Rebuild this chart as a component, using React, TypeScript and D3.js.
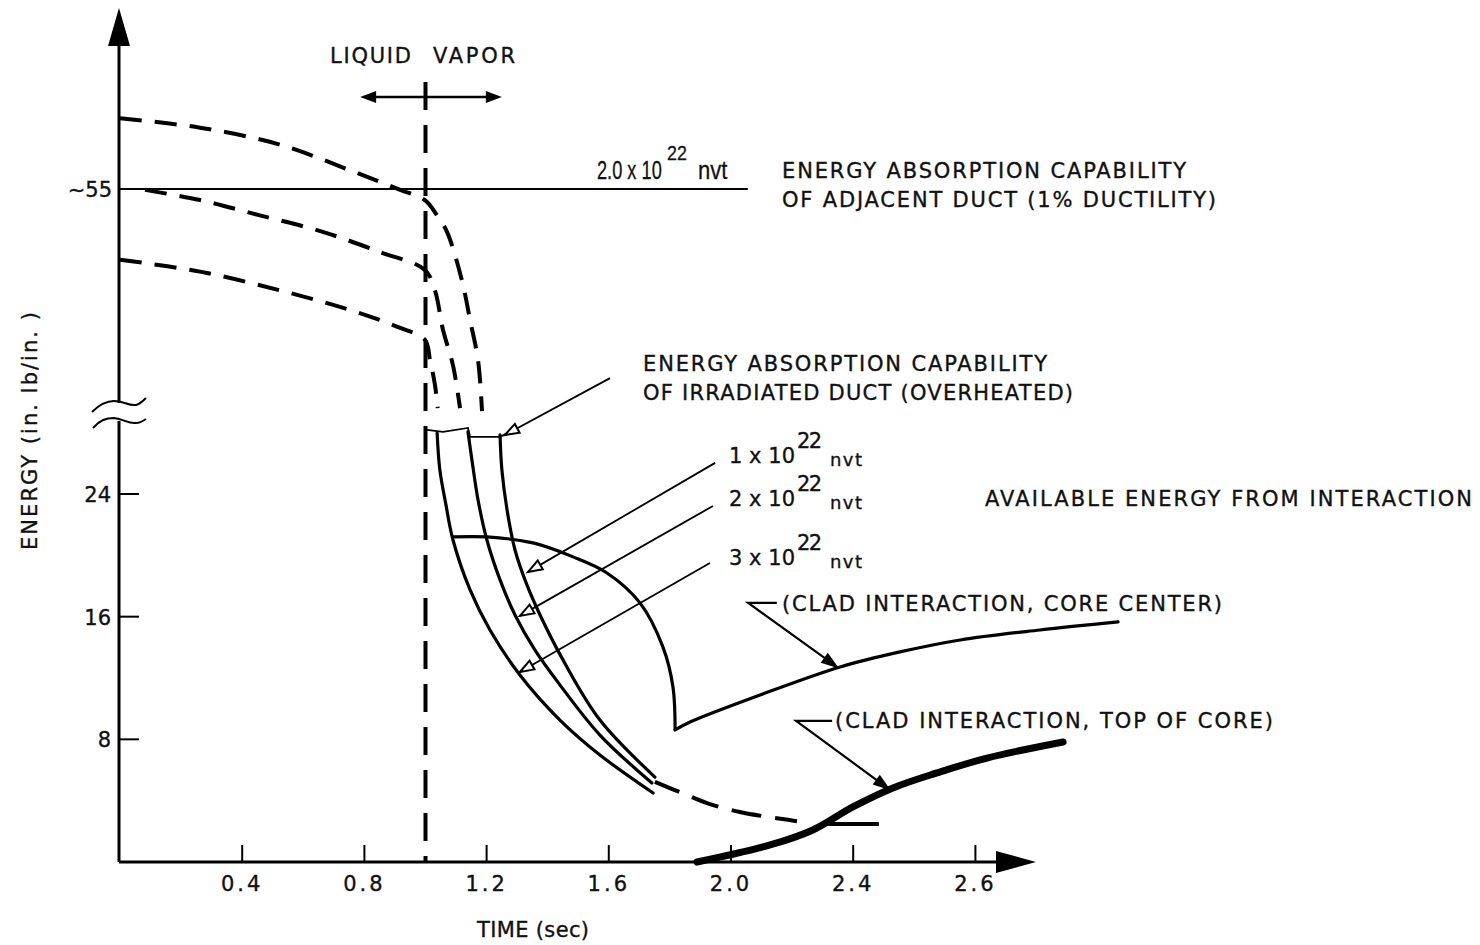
import React from "react";
import * as d3 from "d3";

const W = 1480;
const H = 945;

type P = [number, number]; // [time (sec), energy (in. lb/in.)]

const TIME_TICKS = [0.4, 0.8, 1.2, 1.6, 2.0, 2.4, 2.8];
const TIME_TICK_LABELS = ["0.4", "0.8", "1.2", "1.6", "2.0", "2.4", "2.6"];
const ENERGY_TICKS = [8, 16, 24];
const ENERGY_TICK_LABELS = ["8", "16", "24"];
const ADJACENT_DUCT_ENERGY = 55;
const ADJACENT_DUCT_LABEL = "~55";
const ADJACENT_DUCT_END_TIME = 2.055;
const PHASE_BOUNDARY_TIME = 1.0;
const PHASE_ARROW: P[] = [[0.786, 65.8], [1.25, 65.8]];

// dashed capability curves (liquid region and above axis break)
const DASHED_1: P[] = [
  [0.0, 63.3], [0.262, 62.2], [0.524, 60.2], [0.753, 57.2], [0.917, 54.9],
  [0.998, 53.7], [1.038, 51.9], [1.07, 50.0], [1.119, 44.3], [1.146, 39.6],
  [1.172, 34.9], [1.185, 29.4],
];
const DASHED_2: P[] = [
  [0.082, 54.9], [0.262, 53.7], [0.458, 51.9], [0.661, 50.0], [0.851, 47.6],
  [0.998, 45.5], [1.031, 43.1], [1.057, 38.5], [1.09, 34.3], [1.113, 29.6],
];
const DASHED_3: P[] = [
  [0.0, 46.7], [0.262, 45.3], [0.524, 43.1], [0.753, 40.8], [0.917, 38.7],
  [0.998, 37.3], [1.015, 34.9], [1.031, 32.0], [1.04, 29.6],
];

// overheated duct capability (solid)
const DUCT_3E22: P[] = [
  [1.038, 27.98], [1.047, 25.57], [1.067, 23.29], [1.09, 21.0], [1.146, 17.74],
  [1.211, 15.13], [1.309, 12.2], [1.44, 9.26], [1.571, 6.98], [1.745, 4.5],
];
const DUCT_2E22: P[] = [
  [1.139, 28.05], [1.152, 26.22], [1.172, 23.61], [1.201, 21.0], [1.244, 18.4],
  [1.293, 16.11], [1.358, 13.83], [1.44, 11.55], [1.571, 8.28], [1.741, 5.15],
];
const DUCT_1E22: P[] = [
  [1.244, 27.85], [1.25, 25.57], [1.267, 22.96], [1.293, 20.35], [1.332, 18.07],
  [1.375, 16.11], [1.45, 13.18], [1.571, 9.26], [1.751, 5.54],
];
const DUCT_TAIL: P[] = [
  [1.751, 5.22], [1.84, 4.5], [1.931, 3.78], [2.029, 3.26], [2.144, 2.87],
  [2.268, 2.54], [2.357, 2.48], [2.537, 2.48],
];
const OVERHEATED_TOP: P[] = [
  [1.005, 28.18], [1.057, 28.05], [1.139, 28.31], [1.146, 27.72], [1.244, 27.72], [1.267, 27.98],
];

// available energy
const CORE_CENTER: P[] = [
  [1.09, 21.2], [1.201, 21.2], [1.352, 20.81], [1.483, 19.9], [1.594, 18.85],
  [1.702, 16.9], [1.777, 14.03], [1.81, 11.42], [1.817, 8.61],
];
const CORE_CENTER_RISE: P[] = [
  [1.817, 8.61], [1.866, 9.13], [2.095, 10.89], [2.357, 12.72], [2.553, 13.7],
  [2.75, 14.48], [3.011, 15.13], [3.267, 15.66],
];
const TOP_OF_CORE: P[] = [
  [1.889, 0.0], [2.128, 1.11], [2.268, 2.09], [2.399, 3.59], [2.53, 4.83],
  [2.674, 5.81], [2.838, 6.78], [3.087, 7.83],
];

// leader lines: [start, tip]
const LEADERS: P[][] = [
  [[1.604, 32.8], [1.26, 27.85]],
  [[1.948, 26.03], [1.336, 18.92]],
  [[1.941, 23.22], [1.309, 16.05]],
  [[1.931, 19.5], [1.309, 12.39]],
];
const ELBOW_LEADERS: P[][] = [
  [[2.15, 16.9], [2.056, 16.9], [2.347, 12.72]],
  [[2.331, 9.2], [2.213, 9.2], [2.517, 4.76]],
];

const x = d3.scaleLinear().domain([0, 2.8]).range([120, 975.4]);
const y = d3.scaleLinear().domain([0, 30, 70]).range([862, 402, 61.2]);

const smooth = d3
  .line<P>()
  .x((d) => x(d[0]))
  .y((d) => y(d[1]))
  .curve(d3.curveCatmullRom.alpha(0.5));
const straight = d3
  .line<P>()
  .x((d) => x(d[0]))
  .y((d) => y(d[1]));

function arrowHead(from: [number, number], tip: [number, number], len = 13, half = 5) {
  const dx = tip[0] - from[0];
  const dy = tip[1] - from[1];
  const L = Math.hypot(dx, dy);
  const ux = dx / L;
  const uy = dy / L;
  const bx = tip[0] - ux * len;
  const by = tip[1] - uy * len;
  return `${tip[0]},${tip[1]} ${bx - uy * half},${by + ux * half} ${bx + uy * half},${by - ux * half}`;
}

const FONT = "'DejaVu Sans', sans-serif";
const NARROW = "'Liberation Sans', sans-serif";

export default function App() {
  const axisY = y(0);
  const axisX = x(0) - 1;
  const labelStyle = { fontFamily: FONT, fontSize: 21, fill: "#111", stroke: "#111", strokeWidth: 0.35 } as const;
  const narrowStyle = { fontFamily: NARROW, fontSize: 26, fill: "#111", stroke: "#111", strokeWidth: 0.3 } as const;

  const nvtLabels = [
    { n: "1", base: 463 },
    { n: "2", base: 506 },
    { n: "3", base: 565 },
  ];

  return (
    <svg width={W} height={H} viewBox={`0 0 ${W} ${H}`} style={{ position: "absolute", left: 0, top: 0, background: "#fff" }}>
      <rect width={W} height={H} fill="#fff" />
      {/* axes */}
      <line x1={axisX} y1={axisY} x2={axisX} y2={421} stroke="#000" strokeWidth={3} />
      <line x1={axisX} y1={403} x2={axisX} y2={40} stroke="#000" strokeWidth={3} />
      <polygon points={`${axisX - 11},46 ${axisX},8 ${axisX + 11},46`} fill="#000" />
      <line x1={axisX} y1={axisY} x2={1000} y2={axisY} stroke="#000" strokeWidth={3} />
      <polygon points={`996,${axisY - 11} 1036,${axisY} 996,${axisY + 11}`} fill="#000" />
      {/* axis break marks */}
      <path d="M92,412 C100,404 106,401 114,401 C124,401 128,406 136,405 C140,404 143,401 146,398" fill="none" stroke="#000" strokeWidth={2} />
      <path d="M93,428 C100,420 106,418 114,418 C124,419 128,424 136,423 C140,423 143,421 146,419" fill="none" stroke="#000" strokeWidth={2} />

      {/* x ticks */}
      {TIME_TICKS.map((t, i) => (
        <g key={`xt${i}`}>
          <line x1={x(t)} y1={axisY} x2={x(t)} y2={axisY - 17} stroke="#000" strokeWidth={2} />
          <text x={x(t)} y={891} textAnchor="middle" letterSpacing={3} style={labelStyle}>
            {TIME_TICK_LABELS[i]}
          </text>
        </g>
      ))}
      {/* y ticks */}
      {ENERGY_TICKS.map((e, i) => (
        <g key={`yt${i}`}>
          <line x1={axisX} y1={y(e)} x2={axisX + 20} y2={y(e)} stroke="#000" strokeWidth={2} />
          <text x={111} y={y(e) + 8} textAnchor="end" style={labelStyle}>
            {ENERGY_TICK_LABELS[i]}
          </text>
        </g>
      ))}
      <text x={112} y={y(ADJACENT_DUCT_ENERGY) + 8} textAnchor="end" style={labelStyle}>
        {ADJACENT_DUCT_LABEL}
      </text>
      <line x1={axisX} y1={y(ADJACENT_DUCT_ENERGY)} x2={x(ADJACENT_DUCT_END_TIME)} y2={y(ADJACENT_DUCT_ENERGY)} stroke="#000" strokeWidth={1.8} />

      {/* phase boundary */}
      <line x1={x(PHASE_BOUNDARY_TIME)} y1={82} x2={x(PHASE_BOUNDARY_TIME)} y2={axisY} stroke="#000" strokeWidth={4} strokeDasharray="28,15" />
      <line x1={x(PHASE_ARROW[0][0]) + 8} y1={y(PHASE_ARROW[0][1])} x2={x(PHASE_ARROW[1][0]) - 8} y2={y(PHASE_ARROW[1][1])} stroke="#000" strokeWidth={2.5} />
      <polygon points={arrowHead([x(PHASE_ARROW[1][0]), y(PHASE_ARROW[1][1])], [x(PHASE_ARROW[0][0]), y(PHASE_ARROW[0][1])], 16, 6)} fill="#000" />
      <polygon points={arrowHead([x(PHASE_ARROW[0][0]), y(PHASE_ARROW[0][1])], [x(PHASE_ARROW[1][0]), y(PHASE_ARROW[1][1])], 16, 6)} fill="#000" />

      {/* dashed curves */}
      {[DASHED_1, DASHED_2, DASHED_3].map((d, i) => (
        <path key={`dc${i}`} d={smooth(d) || ""} fill="none" stroke="#000" strokeWidth={4} strokeDasharray="22,13" />
      ))}
      <path d={smooth(DUCT_TAIL) || ""} fill="none" stroke="#000" strokeWidth={4} strokeDasharray="26,14,28,14,30,14,22,27,55" />

      {/* solid duct curves */}
      {[DUCT_3E22, DUCT_2E22, DUCT_1E22].map((d, i) => (
        <path key={`sc${i}`} d={smooth(d) || ""} fill="none" stroke="#000" strokeWidth={3.2} strokeLinecap="round" />
      ))}
      <path d={straight(OVERHEATED_TOP) || ""} fill="none" stroke="#000" strokeWidth={1.8} />

      {/* available energy */}
      <path d={smooth(CORE_CENTER) || ""} fill="none" stroke="#000" strokeWidth={3.2} />
      <path d={smooth(CORE_CENTER_RISE) || ""} fill="none" stroke="#000" strokeWidth={3.2} strokeLinecap="round" />
      <path d={smooth(TOP_OF_CORE) || ""} fill="none" stroke="#000" strokeWidth={7} strokeLinecap="round" />

      {/* leaders */}
      {LEADERS.map((l, i) => {
        const a: [number, number] = [x(l[0][0]), y(l[0][1])];
        const b: [number, number] = [x(l[1][0]), y(l[1][1])];
        return (
          <g key={`ld${i}`}>
            <line x1={a[0]} y1={a[1]} x2={b[0]} y2={b[1]} stroke="#000" strokeWidth={1.8} />
            <polygon points={arrowHead(a, b, 14, 5)} fill="#fff" stroke="#000" strokeWidth={2} />
          </g>
        );
      })}
      {ELBOW_LEADERS.map((l, i) => {
        const pts = l.map((p) => [x(p[0]), y(p[1])] as [number, number]);
        return (
          <g key={`el${i}`}>
            <polyline points={pts.map((p) => p.join(",")).join(" ")} fill="none" stroke="#000" strokeWidth={2.2} />
            <polygon points={arrowHead(pts[1], pts[2], 15, 5)} fill="#000" stroke="#000" strokeWidth={1.5} />
          </g>
        );
      })}

      {/* text */}
      <text x={330} y={63} textLength={81} lengthAdjust="spacing" style={labelStyle}>LIQUID</text>
      <text x={433} y={63} textLength={82} lengthAdjust="spacing" style={labelStyle}>VAPOR</text>

      <text transform="translate(597,179) scale(0.7,1)" style={narrowStyle}>2.0 x 10</text>
      <text transform="translate(667,160) scale(0.85,1)" style={{ ...narrowStyle, fontSize: 21 }}>22</text>
      <text transform="translate(698,179) scale(0.85,1)" style={narrowStyle}>nvt</text>

      <text x={782} y={178} textLength={404} lengthAdjust="spacing" style={labelStyle}>ENERGY ABSORPTION CAPABILITY</text>
      <text x={782} y={207} textLength={434} lengthAdjust="spacing" style={labelStyle}>OF ADJACENT DUCT (1% DUCTILITY)</text>
      <text x={643} y={371} textLength={404} lengthAdjust="spacing" style={labelStyle}>ENERGY ABSORPTION CAPABILITY</text>
      <text x={643} y={400} textLength={430} lengthAdjust="spacing" style={labelStyle}>OF IRRADIATED DUCT (OVERHEATED)</text>

      {nvtLabels.map((l) => (
        <g key={`nv${l.n}`}>
          <text x={729} y={l.base} textLength={66} lengthAdjust="spacing" style={labelStyle}>{`${l.n} x 10`}</text>
          <text x={797} y={l.base - 15} textLength={25} lengthAdjust="spacing" style={labelStyle}>22</text>
          <text x={830} y={l.base + 3} textLength={32} lengthAdjust="spacing" style={{ ...labelStyle, fontSize: 18 }}>nvt</text>
        </g>
      ))}

      <text x={985} y={506} textLength={487} lengthAdjust="spacing" style={labelStyle}>AVAILABLE ENERGY FROM INTERACTION</text>
      <text x={782} y={611} textLength={440} lengthAdjust="spacing" style={labelStyle}>(CLAD INTERACTION, CORE CENTER)</text>
      <text x={835} y={728} textLength={438} lengthAdjust="spacing" style={labelStyle}>(CLAD INTERACTION, TOP OF CORE)</text>

      <text x={477} y={937} textLength={112} lengthAdjust="spacing" style={labelStyle}>TIME (sec)</text>
      <text transform="translate(37,431) rotate(-90)" textAnchor="middle" textLength={238} lengthAdjust="spacing" style={labelStyle}>ENERGY (in. lb/in. )</text>
    </svg>
  );
}
